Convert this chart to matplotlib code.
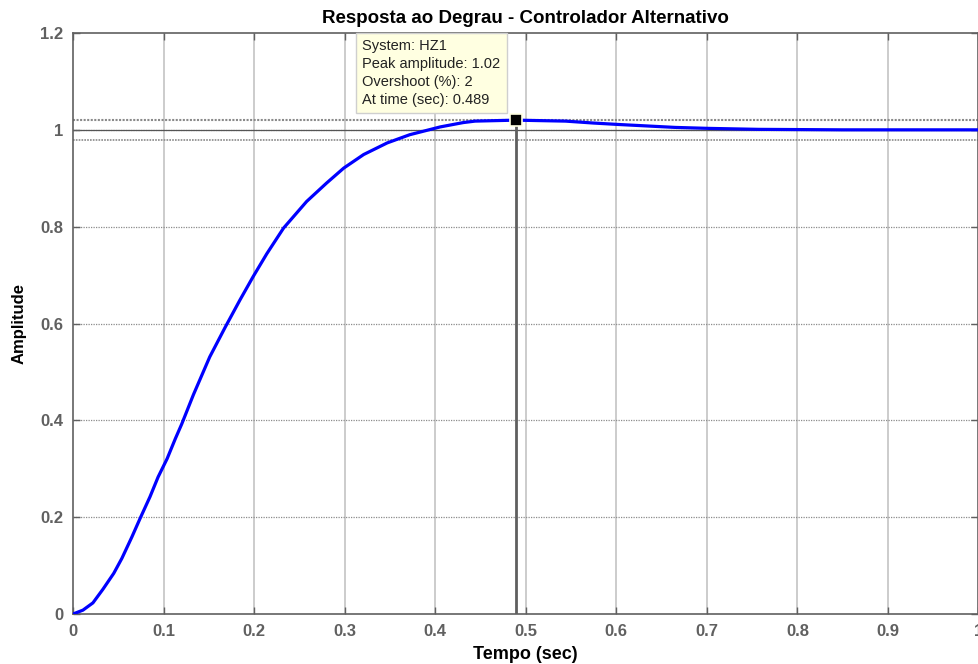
import matplotlib
matplotlib.use("Agg")
import matplotlib.pyplot as plt

# Step response samples (time in s, amplitude)
time_s = [0, 0.011, 0.022, 0.033, 0.045, 0.054, 0.065, 0.074, 0.085, 0.094,
          0.104, 0.113, 0.120, 0.133, 0.151, 0.168, 0.1845, 0.199, 0.214, 0.2325,
          0.258, 0.280, 0.299, 0.321, 0.347, 0.372, 0.393, 0.4055, 0.431, 0.444,
          0.489, 0.544, 0.575, 0.603, 0.634, 0.665, 0.702, 0.757, 0.85, 1.0]
amplitude = [0, 0.008, 0.023, 0.051, 0.084, 0.115, 0.159, 0.197, 0.242, 0.283,
             0.321, 0.362, 0.392, 0.453, 0.531, 0.592, 0.649, 0.697, 0.744, 0.797,
             0.852, 0.890, 0.921, 0.949, 0.973, 0.990, 1.000, 1.006, 1.015, 1.018,
             1.02, 1.018, 1.014, 1.011, 1.008, 1.005, 1.003, 1.001, 1.0, 1.0]

peak_time = 0.489
peak_amp = 1.02
overshoot = 2
final_value = 1.0
band = [0.98, 1.02]

x_ticks = [0, 0.1, 0.2, 0.3, 0.4, 0.5, 0.6, 0.7, 0.8, 0.9, 1.0]
x_ticklabels = ["0", "0.1", "0.2", "0.3", "0.4", "0.5", "0.6", "0.7", "0.8", "0.9", "1"]
y_ticks = [0, 0.2, 0.4, 0.6, 0.8, 1.0, 1.2]
y_ticklabels = ["0", "0.2", "0.4", "0.6", "0.8", "1", "1.2"]

plt.rcParams['font.family'] = ['Liberation Sans', 'DejaVu Sans']

fig = plt.figure(figsize=(9.79, 6.64), dpi=100)
ax = fig.add_axes([73 / 979, 1 - 614 / 664, 905.5 / 979, 581 / 664])

ax.set_xlim(0, 1)
ax.set_ylim(0, 1.2)

# grid
for xv in x_ticks[1:-1]:
    ax.axvline(xv, color='#c8c8c8', lw=1.3, zorder=0)
for yv in y_ticks[1:-1]:
    ax.axhline(yv, color='#8c8c8c', lw=0.9, ls=(0, (1, 1)), zorder=0)

# settling band and final value
ax.axhline(band[1], color='#8a8a8a', lw=1.5, ls=(0, (1, 0.7)), zorder=1)
ax.axhline(final_value, color='#555555', lw=0.9, zorder=1)
ax.axhline(band[0], color='#8a8a8a', lw=1.2, ls=(0, (1, 0.7)), zorder=1)

# response curve
ax.plot(time_s, amplitude, color='#0000FF', lw=2.3, zorder=3,
        solid_joinstyle='round')

# peak marker
ax.plot([peak_time, peak_time], [0, peak_amp], color='#5f5f5f', lw=2.0, zorder=2)
ax.plot([peak_time], [peak_amp], marker='s', ms=8, color='black',
        markeredgecolor='#FFFFE1', markeredgewidth=1.2, zorder=5)

tip = (f"System: HZ1\nPeak amplitude: {peak_amp:.2f}\n"
       f"Overshoot (%): {overshoot}\nAt time (sec): {peak_time}")
ax.text(0.3195, 1.188, tip, fontsize=10.5, color='#222222', va='top', ha='left',
        linespacing=1.38, zorder=6,
        bbox=dict(boxstyle='square,pad=0.42', facecolor='#FFFFE1',
                  edgecolor='#cfcfcf', lw=1.0))

ax.set_xticks(x_ticks)
ax.set_xticklabels(x_ticklabels)
ax.set_yticks(y_ticks)
ax.set_yticklabels(y_ticklabels)
ax.tick_params(direction='in', length=5, width=1, color='#606060',
               top=True, right=True, labelsize=12, labelcolor='#606060', pad=7)
for lbl in ax.get_xticklabels() + ax.get_yticklabels():
    lbl.set_fontweight('bold')
for sp in ax.spines.values():
    sp.set_color('#606060')
    sp.set_linewidth(1.2)

ax.set_title("Resposta ao Degrau - Controlador Alternativo", fontsize=13.5,
             fontweight='bold', color='black', pad=7)
ax.set_xlabel("Tempo (sec)", fontsize=13, fontweight='bold', labelpad=5)
ax.set_ylabel("Amplitude", fontsize=12, fontweight='bold', labelpad=10)

fig.savefig("out.png", dpi=100)
